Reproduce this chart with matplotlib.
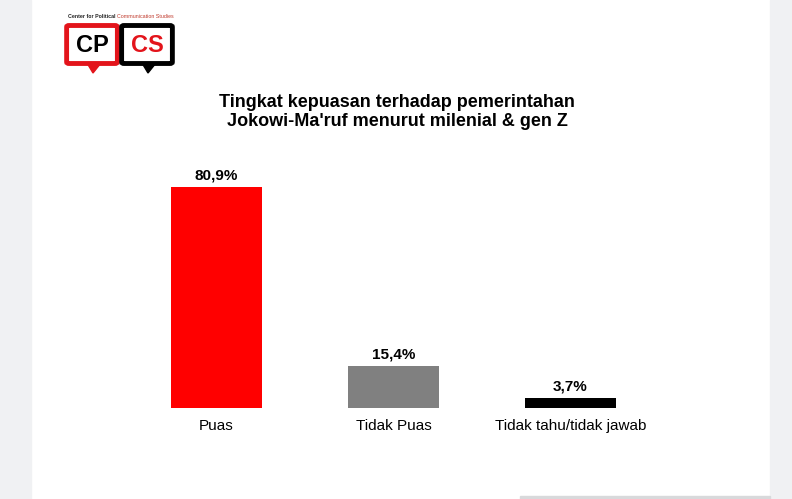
import matplotlib
matplotlib.use('Agg')
import matplotlib.pyplot as plt
from matplotlib.patches import Rectangle, FancyBboxPatch, Polygon

plt.rcParams['font.family'] = ['Liberation Sans', 'DejaVu Sans']

categories = ['Puas', 'Tidak Puas', 'Tidak tahu/tidak jawab']
values = [80.9, 15.4, 3.7]
value_labels = ['80,9%', '15,4%', '3,7%']
bar_colors = ['#FF0000', '#808080', '#000000']

W, H = 792, 499
fig = plt.figure(figsize=(W / 100, H / 100), dpi=100)
fig.patch.set_facecolor('white')

def fx(px):
    return px / W

def fy(py):
    return 1 - py / H

# grey screenshot borders
strip = '#F0F1F3'
fig.patches.append(Rectangle((0, 0), fx(31), 1, transform=fig.transFigure, color=strip, zorder=0))
fig.patches.append(Rectangle((fx(770), 0), 1 - fx(770), 1, transform=fig.transFigure, color=strip, zorder=0))
fig.patches.append(Rectangle((fx(520), 0), fx(250), fy(496), transform=fig.transFigure, color='#D8D9DB', zorder=0))

# logo
fig.text(fx(68), fy(17), 'Center for Political ', fontsize=3.8, fontweight='bold', color='#222222', va='center')
fig.text(fx(117), fy(17), 'Communication Studies', fontsize=3.8, color='#C0392B', va='center')
for x0, edge, txt, tcol in [(69, '#E3141B', 'CP', '#000000'), (124, '#000000', 'CS', '#E3141B')]:
    fig.patches.append(FancyBboxPatch((fx(x0), fy(62)), fx(46), fy(27) - fy(62),
                                      boxstyle='round,pad=0.003', transform=fig.transFigure,
                                      facecolor='white', edgecolor=edge, linewidth=3.5, zorder=2))
    fig.patches.append(Polygon([(fx(x0 + 18), fy(63)), (fx(x0 + 32), fy(63)), (fx(x0 + 24), fy(73))],
                               closed=True, transform=fig.transFigure, color=edge, zorder=2))
    fig.text(fx(x0 + 23), fy(45), txt, fontsize=17, fontweight='bold', color=tcol,
             ha='center', va='center', zorder=3)

fig.text(fx(397), fy(112), 'Tingkat kepuasan terhadap pemerintahan\nJokowi-Ma\'ruf menurut milenial & gen Z',
         fontsize=13, fontweight='bold', ha='center', va='center', linespacing=1.12)

# axes: bars centred at 216.5, 393.5, 570.5 px, baseline at y=408 px
ax = fig.add_axes([fx(128), fy(408), fx(531), (273) / H])
ax.set_facecolor('none')
x = range(len(categories))
ax.bar(x, values, width=0.514, color=bar_colors)
ax.set_xlim(-0.5, 2.5)
ax.set_ylim(0, 100)

for i, (v, lab) in enumerate(zip(values, value_labels)):
    ax.annotate(lab, (i, v), xytext=(0, 3), textcoords='offset points',
                ha='center', va='bottom', fontsize=11, fontweight='bold')

ax.set_xticks(list(x))
ax.set_xticklabels(categories, fontsize=11)
ax.tick_params(axis='x', length=0, pad=8)
ax.set_yticks([])
for s in ax.spines.values():
    s.set_visible(False)

plt.savefig('out.png', dpi=100)
